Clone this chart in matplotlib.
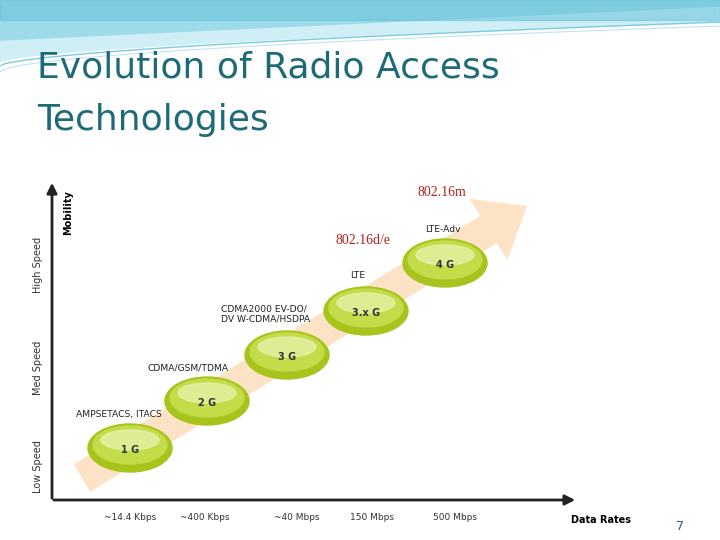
import numpy as np
import matplotlib
matplotlib.use('Agg')
import matplotlib.pyplot as plt
from matplotlib.patches import Ellipse, FancyArrow

# generations along the diagonal (pixel positions on the slide)
GENS = ['1 G', '2 G', '3 G', '3.x G', '4 G']
GEN_X = [130, 207, 287, 366, 445]
GEN_Y = [448, 401, 355, 311, 263]
TECH = ['AMPSETACS, ITACS', 'CDMA/GSM/TDMA', 'CDMA2000 EV-DO/\nDV W-CDMA/HSDPA', 'LTE', 'LTE-Adv']
TECH_X = [76, 148, 221, 358, 443]
TECH_Y = [415, 368, 314, 276, 229]
TECH_HA = ['left', 'left', 'left', 'center', 'center']
RATES = ['~14.4 Kbps', '~400 Kbps', '~40 Mbps', '150 Mbps', '500 Mbps']
RATE_X = [130, 205, 297, 372, 455]
SPEEDS = ['Low Speed', 'Med Speed', 'High Speed']
SPEED_Y = [467, 368, 265]

fig = plt.figure(figsize=(7.2, 5.4), dpi=100)
ax = fig.add_axes([0, 0, 1, 1])
ax.set_xlim(0, 720)
ax.set_ylim(540, 0)
ax.axis('off')

# top swoosh decoration
xs = np.linspace(0, 720, 200)
ax.fill_between(xs, 0, 62 - 40 * (xs / 720) ** 0.6, color='#cfeef6', zorder=0)
ax.fill_between(xs, 0, 40 - 34 * (xs / 720), color='#9edbea', zorder=0)
ax.plot(xs, 66 - 44 * (xs / 720) ** 0.6, color='#7ccbe0', lw=1)
ax.plot(xs, 72 - 46 * (xs / 720) ** 0.55, color='#bfe6f0', lw=0.8)
ax.fill_between(xs, 0, 20 + 0 * xs, color='#5fbfd8', alpha=0.5, zorder=0)

ax.text(37, 67, 'Evolution of Radio Access', fontsize=26, color='#1d6b78', va='center')
ax.text(37, 120, 'Technologies', fontsize=26, color='#1d6b78', va='center')

# big diagonal arrow
ax.add_patch(FancyArrow(82, 478, 445, -272, width=32, head_width=72, head_length=45,
                        length_includes_head=True, color='#fde3c6', lw=0, zorder=1))

# axes
ax.annotate('', xy=(52, 180), xytext=(52, 501),
            arrowprops=dict(arrowstyle='-|>', color='#222222', lw=2, mutation_scale=15))
ax.annotate('', xy=(578, 500), xytext=(51, 500),
            arrowprops=dict(arrowstyle='-|>', color='#222222', lw=2, mutation_scale=15))

for gx, gy, g in zip(GEN_X, GEN_Y, GENS):
    ax.add_patch(Ellipse((gx, gy), 84, 48, color='#a8c41c', zorder=2))
    ax.add_patch(Ellipse((gx, gy - 3), 74, 38, color='#c2dc4a', zorder=2))
    ax.add_patch(Ellipse((gx, gy - 8), 58, 20, color='#e6f2a8', alpha=0.8, zorder=2))
    ax.text(gx, gy + 2, g, fontsize=7, fontweight='bold', color='#333333',
            ha='center', va='center', zorder=3)

for tx, ty, t, ha in zip(TECH_X, TECH_Y, TECH, TECH_HA):
    ax.text(tx, ty, t, fontsize=6.6, color='#222222', ha=ha,
            va='center', linespacing=1.15, zorder=3)

for rx, r in zip(RATE_X, RATES):
    ax.text(rx, 518, r, fontsize=6.5, color='#333333', ha='center', va='center')
ax.text(601, 520, 'Data Rates', fontsize=7, fontweight='bold', ha='center', va='center')

for sy, s in zip(SPEED_Y, SPEEDS):
    ax.text(38, sy, s, fontsize=7, rotation=90, ha='center', va='center', color='#333333')
ax.text(68, 213, 'Mobility', fontsize=7, fontweight='bold', rotation=90, ha='center', va='center')

ax.text(442, 193, '802.16m', fontsize=10, color='#b22222', family='Liberation Serif',
        ha='center', va='center')
ax.text(363, 240, '802.16d/e', fontsize=10, color='#b22222', family='Liberation Serif',
        ha='center', va='center')

ax.text(680, 526, '7', fontsize=9, color='#1d6b78', ha='center', va='center')

fig.savefig('out.png', dpi=100)
